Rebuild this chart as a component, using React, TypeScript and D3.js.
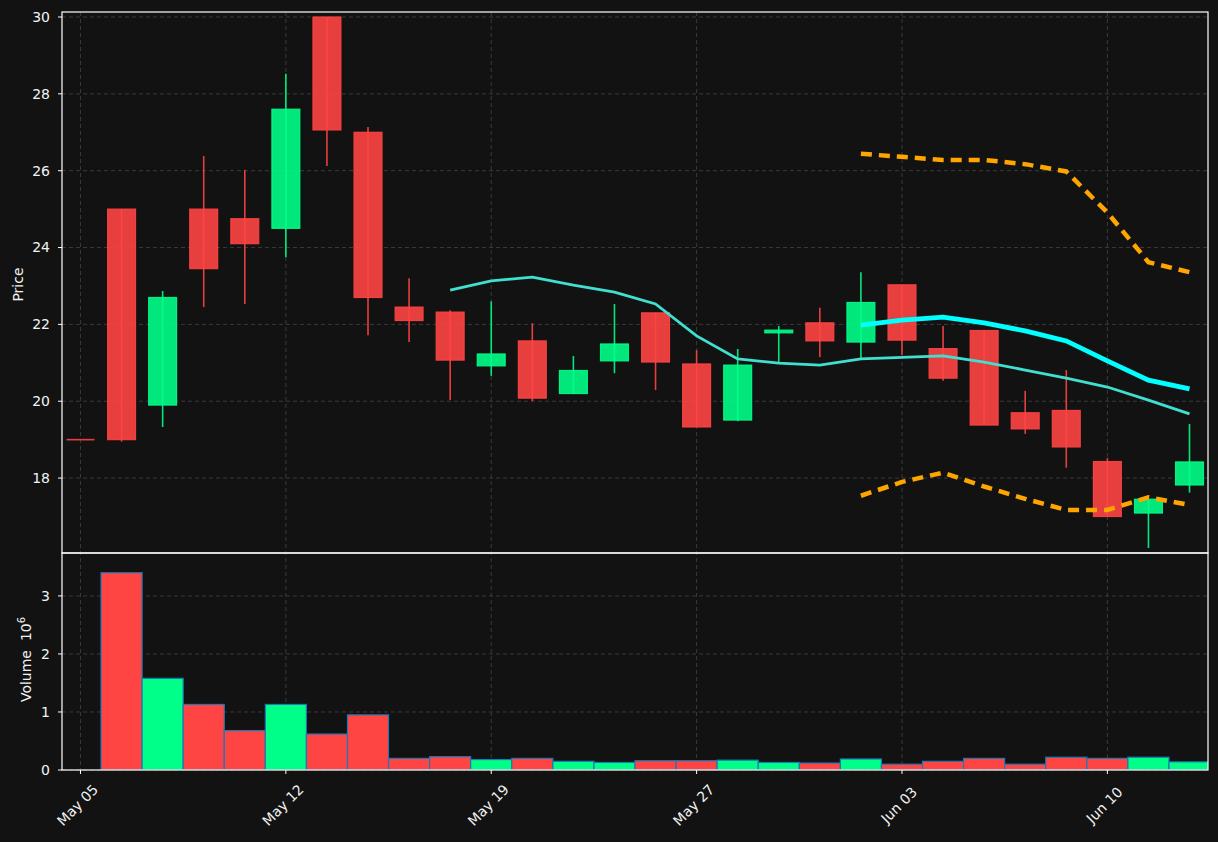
import React from "react";
import * as d3 from "d3";

const width = 1218;
const height = 842;

// trading days, May 05 .. Jun 12
const dates = ["May 05", "May 06", "May 07", "May 08", "May 09", "May 12", "May 13", "May 14", "May 15", "May 16",
    "May 19", "May 20", "May 21", "May 22", "May 23", "May 27", "May 28", "May 29", "May 30", "Jun 02",
    "Jun 03", "Jun 04", "Jun 05", "Jun 06", "Jun 09", "Jun 10", "Jun 11", "Jun 12"];

const opens = [19.0, 25.0, 19.9, 25.0, 24.75, 24.5, 30.0, 27.0, 22.45, 22.32,
    20.92, 21.57, 20.2, 21.05, 22.3, 20.97, 19.51, 21.78, 22.04, 21.54,
    23.03, 21.37, 21.84, 19.7, 19.76, 18.43, 17.09, 17.82];
const highs = [19.0, 25.0, 22.87, 26.38, 26.02, 28.52, 30.0, 27.14, 23.2, 22.37,
    22.6, 22.03, 21.18, 22.53, 22.3, 21.33, 21.36, 21.96, 22.43, 23.36,
    23.03, 21.96, 21.84, 20.27, 20.81, 18.52, 17.45, 19.41];
const lows = [19.0, 18.95, 19.33, 22.45, 22.53, 23.75, 26.12, 21.72, 21.54, 20.03,
    20.66, 20.0, 20.2, 20.73, 20.29, 19.33, 19.48, 21.02, 21.15, 21.12,
    21.2, 20.53, 19.38, 19.15, 18.27, 17.0, 16.18, 17.62];
const closes = [19.0, 19.0, 22.7, 23.45, 24.1, 27.6, 27.06, 22.7, 22.1, 21.07,
    21.23, 20.08, 20.8, 21.49, 21.02, 19.33, 20.94, 21.85, 21.57, 22.57,
    21.59, 20.6, 19.38, 19.28, 18.81, 17.0, 17.45, 18.42];
// millions
const volumes = [0.0, 3.4, 1.58, 1.13, 0.68, 1.13, 0.62, 0.95, 0.2, 0.23,
    0.18, 0.2, 0.15, 0.13, 0.16, 0.16, 0.17, 0.13, 0.12, 0.19,
    0.1, 0.15, 0.2, 0.1, 0.22, 0.2, 0.22, 0.14];

const smaLine = [null, null, null, null, null, null, null, null, null, 22.89,
    23.13, 23.23, 23.02, 22.84, 22.53, 21.7, 21.1, 20.99, 20.94, 21.1,
    21.14, 21.18, 21.02, 20.81, 20.6, 20.37, 20.03, 19.67];
const fastLine = [null, null, null, null, null, null, null, null, null, null,
    null, null, null, null, null, null, null, null, null, 21.98,
    22.11, 22.19, 22.04, 21.83, 21.57, 21.05, 20.55, 20.32];
const upperBand = [null, null, null, null, null, null, null, null, null, null,
    null, null, null, null, null, null, null, null, null, 26.44,
    26.36, 26.28, 26.28, 26.17, 25.98, 24.91, 23.62, 23.36];
const lowerBand = [null, null, null, null, null, null, null, null, null, null,
    null, null, null, null, null, null, null, null, null, 17.54,
    17.9, 18.14, 17.78, 17.46, 17.17, 17.17, 17.5, 17.3];

const priceTicks = [18, 20, 22, 24, 26, 28, 30];
const volumeTicks = [0, 1, 2, 3];
const xTickIdx = [0, 5, 10, 15, 20, 25];

const left = 62, right = 1208;
const pTop = 12, pBottom = 553, vBottom = 770;

const bg = "#121212";
const upColor = "#00ff88";
const downColor = "#ff4444";
const gridColor = "#3a3a3a";
const textColor = "#f2f2f2";
const font = "DejaVu Sans, sans-serif";

function App() {
    const x = d3.scaleLinear().domain([-0.45, 27.45]).range([left, right]);
    const y = d3.scaleLinear().domain([16.05, 30.13]).range([pBottom, pTop]);
    const yv = d3.scaleLinear().domain([0, 3.74]).range([vBottom, pBottom]);
    const step = x(1) - x(0);
    const bodyW = step * 0.68;

    const mkLine = (vals: (number | null)[]) =>
        d3.line<number | null>()
            .defined(d => d !== null)
            .x((d, i) => x(i))
            .y(d => y(d as number))(vals) || "";

    return (
        <svg width={width} height={height} style={{position: "absolute", left: 0, top: 0}} fontFamily={font}>
            <rect x={0} y={0} width={width} height={height} fill={bg}/>
            <defs>
                <clipPath id="priceClip"><rect x={left} y={pTop} width={right - left} height={pBottom - pTop}/></clipPath>
                <clipPath id="volClip"><rect x={left} y={pBottom} width={right - left} height={vBottom - pBottom}/></clipPath>
            </defs>

            {/* grid */}
            {xTickIdx.map(i => (
                <line key={"gx" + i} x1={x(i)} x2={x(i)} y1={pTop} y2={vBottom}
                      stroke={gridColor} strokeDasharray="4,3" strokeWidth={1}/>
            ))}
            {priceTicks.map(t => (
                <line key={"gp" + t} x1={left} x2={right} y1={y(t)} y2={y(t)}
                      stroke={gridColor} strokeDasharray="4,3" strokeWidth={1}/>
            ))}
            {volumeTicks.map(t => (
                <line key={"gv" + t} x1={left} x2={right} y1={yv(t)} y2={yv(t)}
                      stroke={gridColor} strokeDasharray="4,3" strokeWidth={1}/>
            ))}

            {/* candles */}
            <g clipPath="url(#priceClip)">
                {dates.map((d, i) => {
                    const up = closes[i] > opens[i];
                    const c = up ? upColor : downColor;
                    const top = y(Math.max(opens[i], closes[i]));
                    const bot = y(Math.min(opens[i], closes[i]));
                    return (
                        <g key={d}>
                            <line x1={x(i)} x2={x(i)} y1={y(highs[i])} y2={y(lows[i])}
                                  stroke={c} strokeOpacity={0.9} strokeWidth={1.6}/>
                            {bot - top < 0.5 ? (
                                <line x1={x(i) - bodyW / 2} x2={x(i) + bodyW / 2} y1={top} y2={top}
                                      stroke={c} strokeOpacity={0.9} strokeWidth={1.6}/>
                            ) : (
                                <rect x={x(i) - bodyW / 2} y={top} width={bodyW} height={bot - top}
                                      fill={c} fillOpacity={0.9} stroke={c} strokeOpacity={0.9} strokeWidth={1.2}/>
                            )}
                        </g>
                    );
                })}
                <path d={mkLine(smaLine)} fill="none" stroke="#40e0d0" strokeWidth={2.8}/>
                <path d={mkLine(fastLine)} fill="none" stroke="#00ffff" strokeWidth={4.8}/>
                <path d={mkLine(upperBand)} fill="none" stroke="#ffa500" strokeWidth={4.5} strokeDasharray="11,7"/>
                <path d={mkLine(lowerBand)} fill="none" stroke="#ffa500" strokeWidth={4.5} strokeDasharray="11,7"/>
            </g>

            {/* volume */}
            <g clipPath="url(#volClip)">
                {volumes.map((v, i) => (
                    <rect key={"v" + i} x={x(i) - step / 2} y={yv(v)} width={step} height={vBottom - yv(v)}
                          fill={closes[i] > opens[i] ? upColor : downColor}
                          stroke={v > 0 ? "#1f77b4" : "none"} strokeWidth={1.2}/>
                ))}
            </g>

            {/* spines */}
            <rect x={left} y={pTop} width={right - left} height={pBottom - pTop} fill="none" stroke="#ffffff" strokeWidth={1.2}/>
            <rect x={left} y={pBottom} width={right - left} height={vBottom - pBottom} fill="none" stroke="#ffffff" strokeWidth={1.2}/>

            {/* y ticks price */}
            {priceTicks.map(t => (
                <g key={"tp" + t}>
                    <line x1={left - 4} x2={left} y1={y(t)} y2={y(t)} stroke="#ffffff"/>
                    <text x={left - 12} y={y(t)} dy="0.35em" textAnchor="end" fill={textColor} fontSize={14}>{t}</text>
                </g>
            ))}
            {volumeTicks.map(t => (
                <g key={"tv" + t}>
                    <line x1={left - 4} x2={left} y1={yv(t)} y2={yv(t)} stroke="#ffffff"/>
                    <text x={left - 12} y={yv(t)} dy="0.35em" textAnchor="end" fill={textColor} fontSize={14}>{t}</text>
                </g>
            ))}

            {/* x ticks */}
            {xTickIdx.map(i => (
                <g key={"tx" + i}>
                    <line x1={x(i)} x2={x(i)} y1={vBottom} y2={vBottom + 4} stroke="#ffffff"/>
                    <text transform={`translate(${x(i) - 3},${vBottom + 35}) rotate(-45)`} textAnchor="middle"
                          dominantBaseline="central" fill={textColor} fontSize={14}>{dates[i]}</text>
                </g>
            ))}

            {/* axis labels */}
            <text transform={`translate(23,${(pTop + pBottom) / 2 + 2}) rotate(-90)`} textAnchor="middle"
                  fill={textColor} fontSize={14}>Price</text>
            <text transform={`translate(31,${(pBottom + vBottom) / 2 - 2}) rotate(-90)`} textAnchor="middle"
                  fill={textColor} fontSize={14}>
                Volume{"\u00a0\u00a0"}10<tspan dy="-6" fontSize={10}>6</tspan>
            </text>
        </svg>
    );
}

export default App;
